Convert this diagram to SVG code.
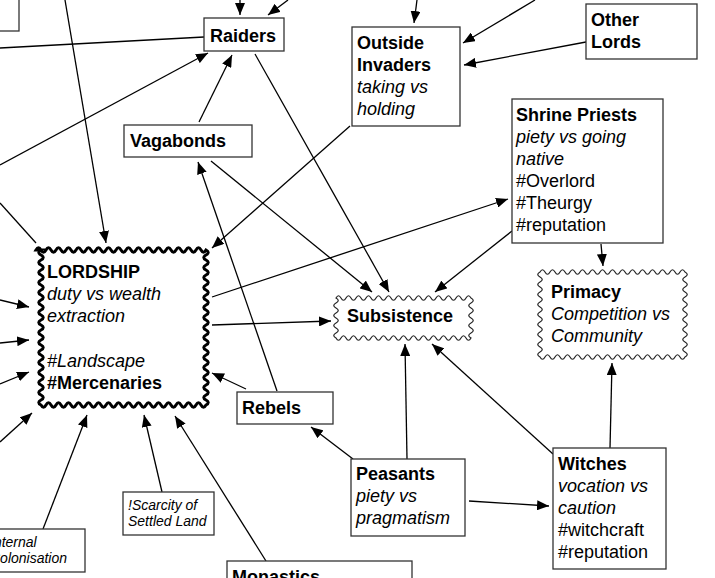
<svg xmlns="http://www.w3.org/2000/svg" width="715" height="578" viewBox="0 0 715 578">
<style>
text{font-family:"Liberation Sans",Arial,sans-serif;font-size:18px;fill:#000}
.b{font-weight:bold}
.i{font-style:italic}
.s{font-size:14px}
.box{fill:#fff;stroke:#333;stroke-width:1.3}
.wav{fill:#fff;stroke:#222;stroke-width:1.2}
.wavt{fill:#fff;stroke:#000;stroke-width:3}
#edges line{stroke:#000;stroke-width:1.3;fill:none}
#edges line.a{marker-end:url(#ah)}
</style>
<defs>
<marker id="ah" markerUnits="userSpaceOnUse" markerWidth="12" markerHeight="10" refX="12" refY="5" orient="auto">
<path d="M0 0L12 5L0 10z" fill="#000"/>
</marker>
</defs>
<rect width="715" height="578" fill="#fff"/>
<g id="edges">
<line x1="0" y1="48" x2="204" y2="37"/>
<line class="a" x1="65" y1="0" x2="106" y2="243"/>
<line class="a" x1="0" y1="165" x2="208" y2="53"/>
<line class="a" x1="199" y1="122" x2="232" y2="55"/>
<line class="a" x1="255" y1="54" x2="389" y2="292"/>
<line class="a" x1="211" y1="161" x2="372" y2="292"/>
<line class="a" x1="350" y1="126" x2="212" y2="248"/>
<line class="a" x1="277" y1="391" x2="198" y2="162"/>
<line class="a" x1="240" y1="0" x2="240" y2="15"/>
<line class="a" x1="288" y1="0" x2="268" y2="15"/>
<line class="a" x1="417" y1="0" x2="414" y2="23"/>
<line class="a" x1="535" y1="0" x2="463" y2="43"/>
<line class="a" x1="586" y1="42" x2="464" y2="65"/>
<line class="a" x1="212" y1="297" x2="508" y2="199"/>
<line class="a" x1="512" y1="231" x2="435" y2="292"/>
<line class="a" x1="601" y1="244" x2="603" y2="266"/>
<line x1="0" y1="203" x2="36" y2="243"/>
<line class="a" x1="0" y1="300" x2="29" y2="307"/>
<line class="a" x1="0" y1="343" x2="29" y2="340"/>
<line class="a" x1="0" y1="384" x2="29" y2="372"/>
<line class="a" x1="0" y1="442" x2="32" y2="413"/>
<line class="a" x1="43" y1="529" x2="87" y2="415"/>
<line class="a" x1="162" y1="492" x2="144" y2="415"/>
<line class="a" x1="266" y1="561" x2="175" y2="416"/>
<line class="a" x1="353" y1="459" x2="311" y2="427"/>
<line class="a" x1="246" y1="389" x2="212" y2="373"/>
<line class="a" x1="212" y1="325" x2="331" y2="321"/>
<line class="a" x1="407" y1="459" x2="405" y2="344"/>
<line class="a" x1="553" y1="454" x2="432" y2="344"/>
<line class="a" x1="610" y1="448" x2="612" y2="363"/>
<line class="a" x1="469" y1="501" x2="549" y2="506"/>
</g>
<g id="topleft"><rect class="box" x="-5" y="-5" width="24" height="36"/></g>
<g id="raiders"><rect class="box" x="204" y="18" width="80" height="33"/><text class="b" x="210" y="42">Raiders</text></g>
<g id="outside-invaders"><rect class="box" x="352" y="27" width="108" height="99"/>
<text class="b" x="357" y="49">Outside</text><text class="b" x="357" y="71">Invaders</text>
<text class="i" x="357" y="93">taking vs</text><text class="i" x="357" y="115">holding</text></g>
<g id="other-lords"><rect class="box" x="586" y="4" width="111" height="55"/>
<text class="b" x="591" y="26">Other</text><text class="b" x="591" y="48">Lords</text></g>
<g id="shrine-priests"><rect class="box" x="512" y="99" width="151" height="144"/>
<text class="b" x="516" y="121">Shrine Priests</text>
<text class="i" x="516" y="143">piety vs going</text>
<text class="i" x="516" y="165">native</text>
<text x="516" y="187">#Overlord</text>
<text x="516" y="209">#Theurgy</text>
<text x="516" y="231">#reputation</text></g>
<g id="vagabonds"><rect class="box" x="124" y="125" width="128" height="32"/><text class="b" x="130" y="147">Vagabonds</text></g>
<g id="lordship">
<path class="wavt" d="M36 250q2.5 -4.5 5 0t5 0 t5 0 t5 0 t5 0 t5 0 t5 0 t5 0 t5 0 t5 0 t5 0 t5 0 t5 0 t5 0 t5 0 t5 0 t5 0 t5 0 t5 0 t5 0 t5 0 t5 0 t5 0 t5 0 t5 0 t5 0 t5 0 t5 0 t5 0 t5 0 t5 0 t5 0 t5 0 t5 0
q4.5 2.5 0 5t0 5 t0 5 t0 5 t0 5 t0 5 t0 5 t0 5 t0 5 t0 5 t0 5 t0 5 t0 5 t0 5 t0 5 t0 5 t0 5 t0 5 t0 5 t0 5 t0 5 t0 5 t0 5 t0 5 t0 5 t0 5 t0 5 t0 5 t0 5 t0 5 t0 5
q-2.5 4.5 -5 0t-5 0 t-5 0 t-5 0 t-5 0 t-5 0 t-5 0 t-5 0 t-5 0 t-5 0 t-5 0 t-5 0 t-5 0 t-5 0 t-5 0 t-5 0 t-5 0 t-5 0 t-5 0 t-5 0 t-5 0 t-5 0 t-5 0 t-5 0 t-5 0 t-5 0 t-5 0 t-5 0 t-5 0 t-5 0 t-5 0 t-5 0 t-5 0
q-4.5 -2.5 0 -5t0 -5 t0 -5 t0 -5 t0 -5 t0 -5 t0 -5 t0 -5 t0 -5 t0 -5 t0 -5 t0 -5 t0 -5 t0 -5 t0 -5 t0 -5 t0 -5 t0 -5 t0 -5 t0 -5 t0 -5 t0 -5 t0 -5 t0 -5 t0 -5 t0 -5 t0 -5 t0 -5 t0 -5 t0 -5 t0 -5z"/>
<text class="b" x="47" y="278">LORDSHIP</text>
<text class="i" x="47" y="300">duty vs wealth</text>
<text class="i" x="47" y="322">extraction</text>
<text class="i" x="47" y="367">#Landscape</text>
<text class="b" x="47" y="389">#Mercenaries</text>
</g>
<g id="subsistence">
<path class="wav" d="M336 298q2.5 -4.5 5 0t5 0 t5 0 t5 0 t5 0 t5 0 t5 0 t5 0 t5 0 t5 0 t5 0 t5 0 t5 0 t5 0 t5 0 t5 0 t5 0 t5 0 t5 0 t5 0 t5 0 t5 0 t5 0 t5 0 t5 0 t5 0 t5 0
q4.5 2.5 0 5t0 5 t0 5 t0 5 t0 5 t0 5 t0 5 t0 5
q-2.5 4.5 -5 0t-5 0 t-5 0 t-5 0 t-5 0 t-5 0 t-5 0 t-5 0 t-5 0 t-5 0 t-5 0 t-5 0 t-5 0 t-5 0 t-5 0 t-5 0 t-5 0 t-5 0 t-5 0 t-5 0 t-5 0 t-5 0 t-5 0 t-5 0 t-5 0 t-5 0 t-5 0
q-4.5 -2.5 0 -5t0 -5 t0 -5 t0 -5 t0 -5 t0 -5 t0 -5 t0 -5z"/>
<text class="b" x="347" y="322">Subsistence</text>
</g>
<g id="primacy">
<path class="wav" d="M540 272q2.5 -4.5 5 0t5 0 t5 0 t5 0 t5 0 t5 0 t5 0 t5 0 t5 0 t5 0 t5 0 t5 0 t5 0 t5 0 t5 0 t5 0 t5 0 t5 0 t5 0 t5 0 t5 0 t5 0 t5 0 t5 0 t5 0 t5 0 t5 0 t5 0 t5 0
q4.5 2.5 0 5t0 5 t0 5 t0 5 t0 5 t0 5 t0 5 t0 5 t0 5 t0 5 t0 5 t0 5 t0 5 t0 5 t0 5 t0 5 t0 5
q-2.5 4.5 -5 0t-5 0 t-5 0 t-5 0 t-5 0 t-5 0 t-5 0 t-5 0 t-5 0 t-5 0 t-5 0 t-5 0 t-5 0 t-5 0 t-5 0 t-5 0 t-5 0 t-5 0 t-5 0 t-5 0 t-5 0 t-5 0 t-5 0 t-5 0 t-5 0 t-5 0 t-5 0 t-5 0 t-5 0
q-4.5 -2.5 0 -5t0 -5 t0 -5 t0 -5 t0 -5 t0 -5 t0 -5 t0 -5 t0 -5 t0 -5 t0 -5 t0 -5 t0 -5 t0 -5 t0 -5 t0 -5 t0 -5z"/>
<text class="b" x="551" y="298">Primacy</text>
<text class="i" x="551" y="320">Competition vs</text>
<text class="i" x="551" y="342">Community</text>
</g>
<g id="rebels"><rect class="box" x="237" y="392" width="96" height="32"/><text class="b" x="242" y="414">Rebels</text></g>
<g id="peasants"><rect class="box" x="351" y="459" width="114" height="77"/>
<text class="b" x="356" y="480">Peasants</text><text class="i" x="356" y="502">piety vs</text><text class="i" x="356" y="524">pragmatism</text></g>
<g id="witches"><rect class="box" x="553" y="448" width="113" height="121"/>
<text class="b" x="558" y="470">Witches</text>
<text class="i" x="558" y="492">vocation vs</text>
<text class="i" x="558" y="514">caution</text>
<text x="558" y="536">#witchcraft</text>
<text x="558" y="558">#reputation</text></g>
<g id="scarcity"><rect class="box" x="123" y="492" width="91" height="43"/>
<text class="i s" x="128" y="510">!Scarcity of</text><text class="i s" x="128" y="526">Settled Land</text></g>
<g id="internal-colonisation"><rect class="box" x="-15" y="529" width="100" height="43"/>
<text class="i s" x="-10" y="547">Internal</text><text class="i s" x="-10" y="563">Colonisation</text></g>
<g id="monastics"><rect class="box" x="227" y="561" width="185" height="30"/><text class="b" x="232" y="583">Monastics</text></g>
</svg>
